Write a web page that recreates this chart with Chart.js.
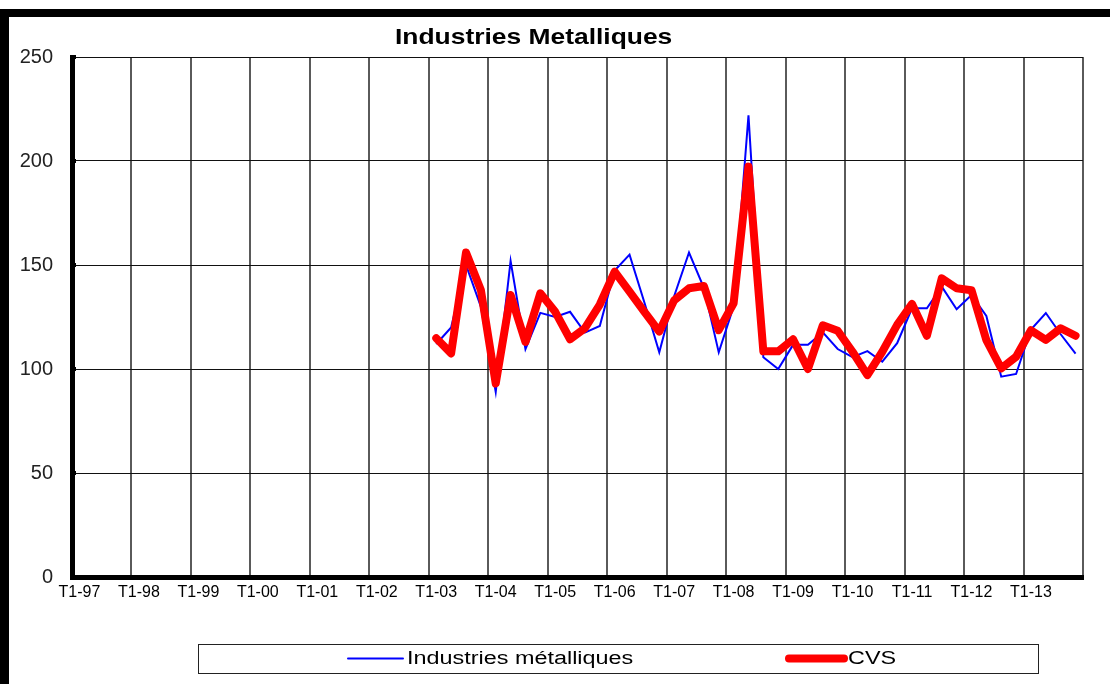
<!DOCTYPE html>
<html>
<head>
<meta charset="utf-8">
<title>Industries Metalliques</title>
<script src="https://cdn.jsdelivr.net/npm/chart.js@4.4.1/dist/chart.umd.min.js"></script>
<style>
  html, body { margin: 0; padding: 0; background: #fff; overflow: hidden; }
  #wrap { position: relative; width: 1110px; height: 684px; }
</style>
</head>
<body>
<div id="wrap"><canvas id="chart"></canvas></div>
<script>
// quarterly categories T1-97 .. T4-13
const years = ['97', '98', '99', '00', '01', '02', '03', '04', '05', '06', '07', '08', '09', '10', '11', '12', '13'];
const quarters = ['T1', 'T2', 'T3', 'T4'];
const labels = years.flatMap(y => quarters.map(q => q + '-' + y));

// series only start in T1-03
const firstQuarter = 'T1-03';

const industriesMetalliques = [
  112, 120, 150, 130,   // 2003
  89, 152, 109.5, 127,  // 2004
  125, 127.5, 117.5, 120.7, // 2005
  147.3, 155, 132, 108, // 2006
  135, 156, 139, 108,   // 2007
  130, 222, 105.6, 100, // 2008
  111.6, 111.6, 117.6, 109.6, // 2009
  105.7, 108.6, 103.5, 112.4, // 2010
  129.2, 129.2, 139.6, 128.7, // 2011
  135.6, 125.5, 96.3, 97.6,   // 2012
  119, 126.9, 116.7, 107.4    // 2013
];

const cvs = [
  114.8, 107.5, 156, 138,
  93, 135.6, 113, 136.4,
  127.5, 114.3, 119.6, 131,
  146.8, 137.2, 127.5, 118,
  133, 138.8, 139.9, 118.7,
  131.6, 197.3, 108.5, 108.5,
  114.3, 100, 121, 118.4,
  108.3, 97.1, 108.3, 121.2,
  131.3, 116, 143.6, 138.8,
  137.9, 113.9, 100.3, 105.9,
  118.6, 114, 119.6, 116
];

const yTicks = [0, 50, 100, 150, 200, 250];

const lead = new Array(labels.indexOf(firstQuarter)).fill(null);

// frame bars, title and boxed legend drawn straight on the canvas
const decorations = {
  id: 'decorations',
  afterDraw(chart, args, opts) {
    const ctx = chart.ctx;
    ctx.save();

    // black frame at top and left
    ctx.fillStyle = '#000';
    ctx.fillRect(0, 9, chart.width, 8);
    ctx.fillRect(0, 9, 9, chart.height - 9);

    // title
    ctx.font = opts.titleFont;
    ctx.fillStyle = '#000';
    ctx.textAlign = 'left';
    ctx.textBaseline = 'alphabetic';
    ctx.save();
    ctx.translate(opts.titleX, opts.titleY);
    ctx.scale(opts.stretch, 1);
    ctx.fillText(opts.title, 0, 0);
    ctx.restore();

    // legend box
    const b = opts.legendBox;
    ctx.strokeStyle = '#222';
    ctx.lineWidth = 1;
    ctx.strokeRect(b.x + 0.5, b.y + 0.5, b.w, b.h);

    ctx.font = opts.legendFont;
    chart.data.datasets.forEach((ds, i) => {
      const x = opts.legendX[i];
      const y = b.y + b.h / 2;
      ctx.beginPath();
      ctx.strokeStyle = ds.borderColor;
      ctx.lineWidth = ds.borderWidth;
      ctx.lineCap = 'round';
      ctx.moveTo(x, y);
      ctx.lineTo(x + opts.sampleLength, y);
      ctx.stroke();

      ctx.save();
      ctx.translate(x + opts.sampleLength + 4, opts.legendBaseline);
      ctx.scale(opts.legendStretch, 1);
      ctx.fillStyle = '#000';
      ctx.fillText(ds.label, 0, 0);
      ctx.restore();
    });

    // small tick nubs on the value axis
    const ys = chart.scales.y;
    ctx.fillStyle = '#000';
    yTicks.forEach(v => {
      const py = ys.getPixelForValue(v);
      ctx.fillRect(chart.chartArea.left, py - 2, 4, 4);
    });

    ctx.restore();
  }
};

const gridGray = '#5a5a5a';

new Chart(document.getElementById('chart').getContext('2d'), {
  type: 'line',
  data: {
    labels: labels,
    datasets: [
      {
        label: 'Industries métalliques',
        data: lead.concat(industriesMetalliques),
        borderColor: '#0000ff',
        borderWidth: 2,
        order: 1
      },
      {
        label: 'CVS',
        data: lead.concat(cvs),
        borderColor: '#ff0000',
        borderWidth: 8,
        borderJoinStyle: 'round',
        borderCapStyle: 'round',
        order: 0
      }
    ]
  },
  options: {
    responsive: true,
    maintainAspectRatio: false,
    animation: false,
    events: [],
    elements: { point: { radius: 0 }, line: { tension: 0 } },
    layout: { padding: { top: 57, right: 27, bottom: 0, left: 0 } },
    plugins: {
      legend: { display: false },
      title: { display: false },
      tooltip: { enabled: false },
      decorations: {
        title: 'Industries Metalliques',
        titleFont: "bold 22px 'Liberation Sans', Arial, sans-serif",
        titleX: 395,
        titleY: 43.5,
        stretch: 1.2,
        legendBox: { x: 198, y: 644, w: 840, h: 29 },
        legendX: [348, 789],
        sampleLength: 55,
        legendFont: "18px 'Liberation Sans', Arial, sans-serif",
        legendStretch: 1.3,
        legendBaseline: 664
      }
    },
    scales: {
      x: {
        offset: true,
        afterFit: (s) => { s.height = 107; },
        grid: {
          offset: true,
          drawTicks: false,
          lineWidth: 2,
          color: (c) => (c.tick === undefined || c.index % 4 === 0) ? gridGray : 'rgba(0,0,0,0)'
        },
        border: { display: true, color: '#000', width: 5 },
        ticks: {
          autoSkip: false,
          maxRotation: 0,
          padding: 6,
          color: '#000',
          font: { family: "'Liberation Sans', Arial, sans-serif", size: 16 },
          callback: function (val, i) { return i % 4 === 0 ? this.getLabelForValue(val) : ''; }
        }
      },
      y: {
        min: 0,
        max: 250,
        afterFit: (s) => { s.width = 72; },
        afterBuildTicks: (s) => { s.ticks = yTicks.map(v => ({ value: v })); },
        grid: { drawTicks: false, color: '#111', lineWidth: 1 },
        border: { display: true, color: '#000', width: 5 },
        ticks: {
          padding: 19,
          color: '#222',
          font: { family: "'Liberation Sans', Arial, sans-serif", size: 20 }
        }
      }
    }
  },
  plugins: [decorations]
});
</script>
</body>
</html>
